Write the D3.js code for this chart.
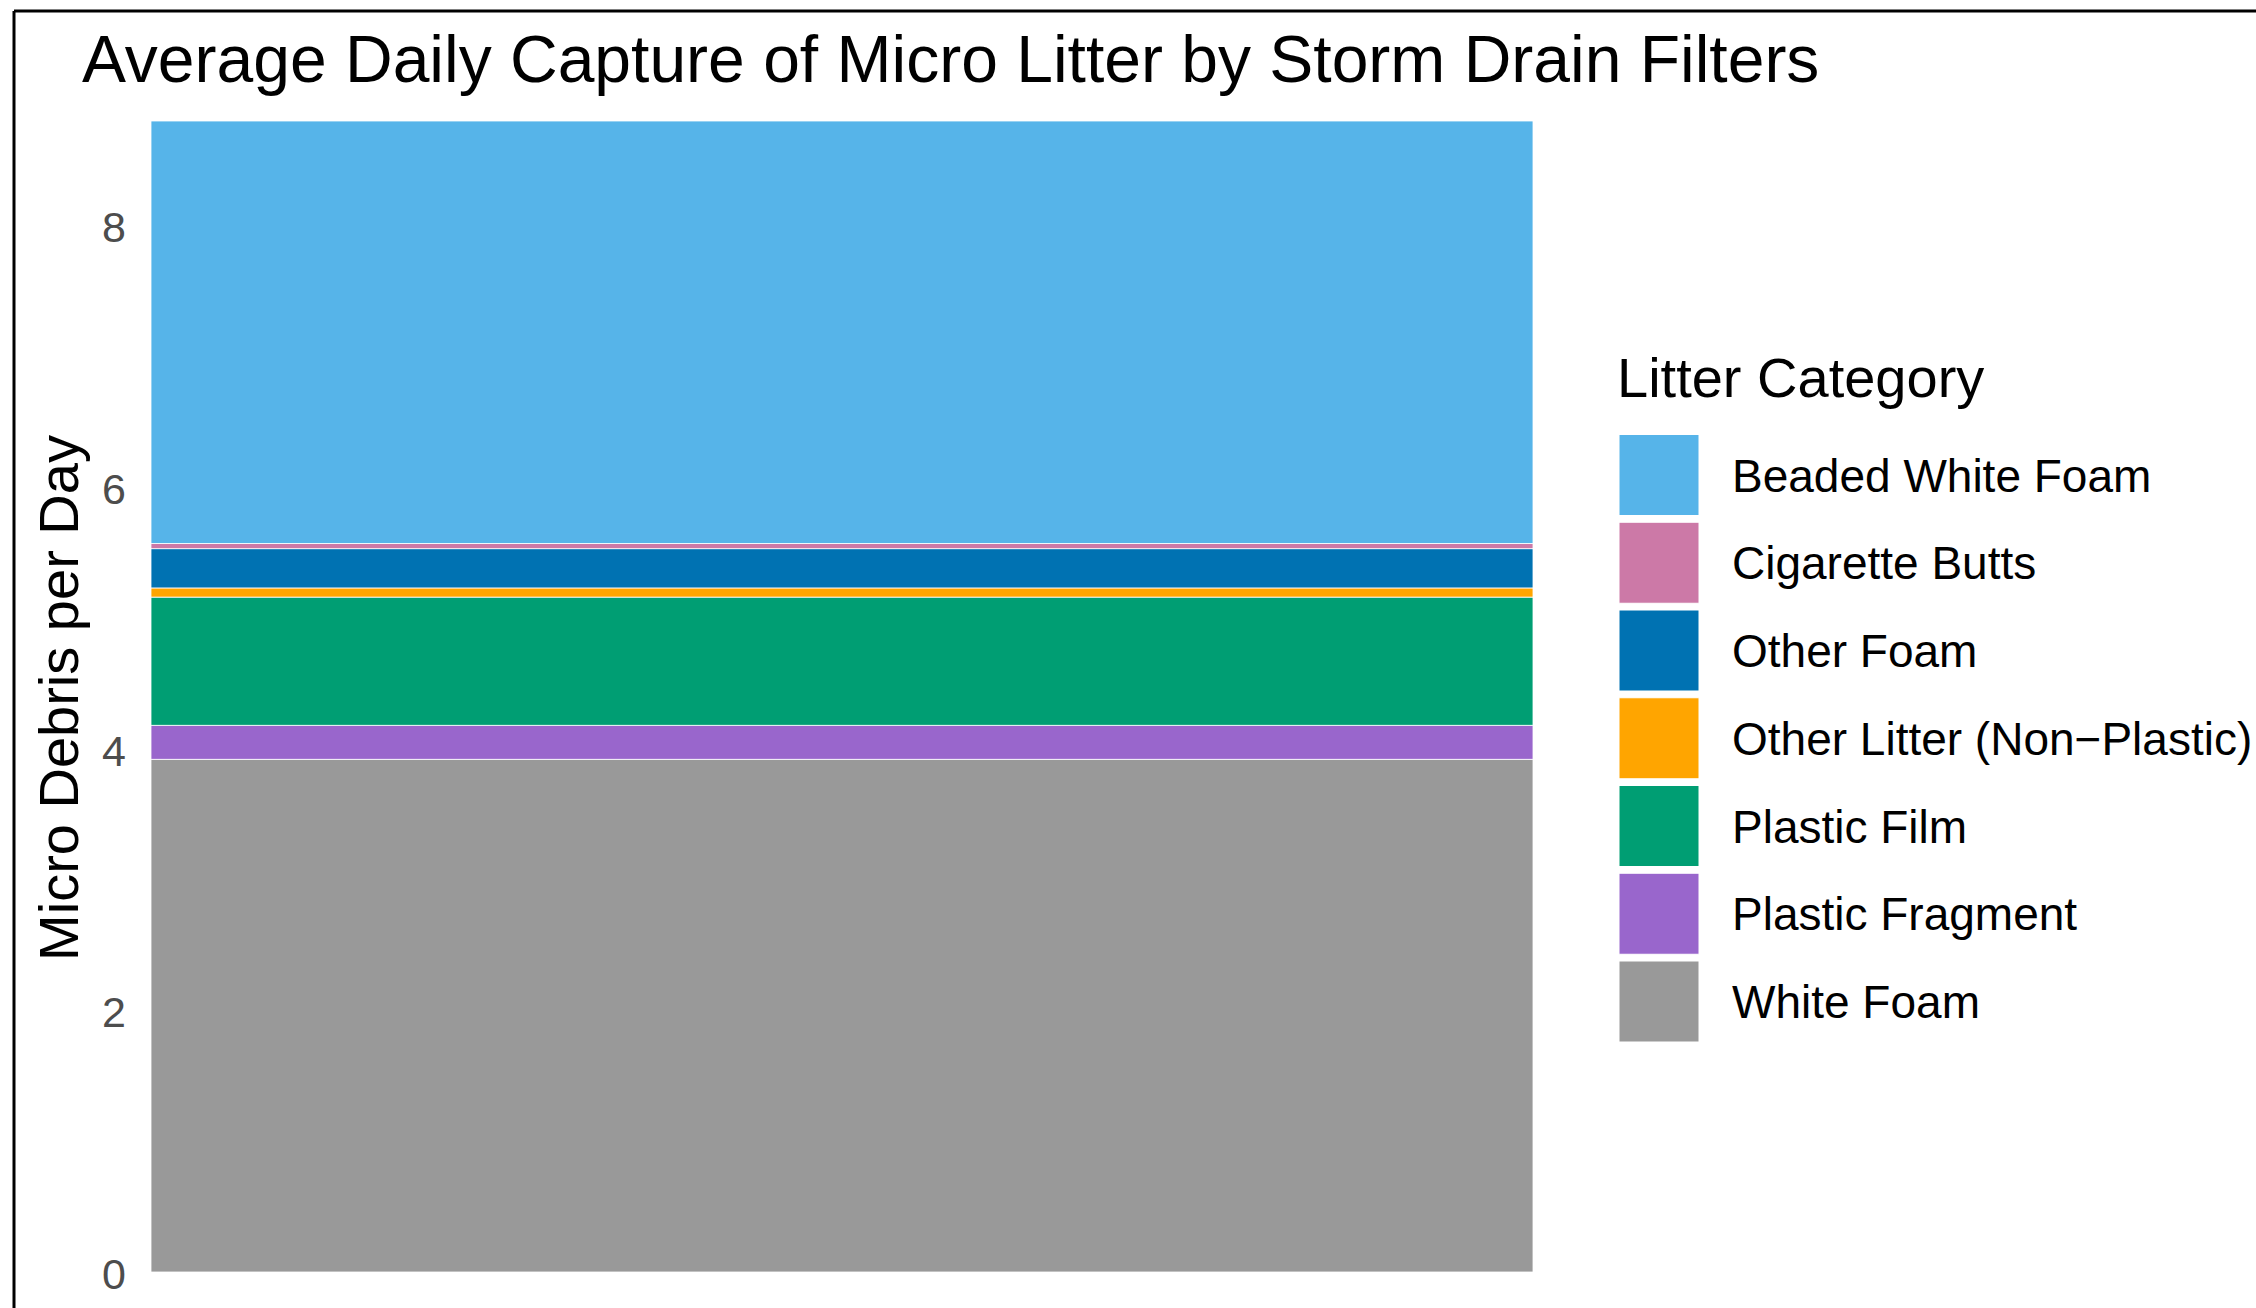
<!DOCTYPE html>
<html>
<head>
<meta charset="utf-8">
<script src="https://cdn.jsdelivr.net/npm/d3@7"></script>
<style>
  body { margin: 0; background: #fff; }
  svg { display: block; font-family: "Liberation Sans", Arial, sans-serif; }
</style>
</head>
<body>
<svg id="chart" width="2256" height="1308"></svg>
<script>
// categories in legend order (top of stack first)
const categories = ["Beaded White Foam", "Cigarette Butts", "Other Foam", "Other Litter (Non\u2212Plastic)", "Plastic Film", "Plastic Fragment", "White Foam"];
const values = [3.23, 0.04, 0.30, 0.07, 0.98, 0.26, 3.92];
const colors = ["#56B4E9", "#CC79A7", "#0072B2", "#FFA500", "#009E73", "#9966CC", "#999999"];
const yTicks = [0, 2, 4, 6, 8];

const svg = d3.select("#chart");

// outer frame (only top and left edges show)
svg.append("line").attr("x1", 14).attr("x2", 2256).attr("y1", 11).attr("y2", 11)
    .attr("stroke", "#000").attr("stroke-width", 3);
svg.append("line").attr("x1", 14).attr("x2", 14).attr("y1", 11).attr("y2", 1308)
    .attr("stroke", "#000").attr("stroke-width", 3);

const x = d3.scaleBand().domain(["all"]).range([151, 1533]).padding(0);
const y = d3.scaleLinear().domain([0, 8.8]).range([1272, 121]);

// stack from bottom up (reverse of legend order)
const rows = categories.map((c, i) => ({ cat: c, value: values[i], color: colors[i] })).reverse();
let acc = 0;
rows.forEach(d => { d.y0 = acc; acc += d.value; d.y1 = acc; });

svg.append("g")
    .selectAll("rect")
    .data(rows)
    .enter().append("rect")
    .attr("x", x("all"))
    .attr("width", x.bandwidth())
    .attr("y", d => y(d.y1))
    .attr("height", d => y(d.y0) - y(d.y1))
    .attr("fill", d => d.color)
    .attr("stroke", "#fff")
    .attr("stroke-width", 0.8);

// y axis: labels only
const yAxis = svg.append("g")
    .attr("transform", "translate(136,0)")
    .call(d3.axisLeft(y).tickValues(yTicks).tickSize(0).tickPadding(10).tickFormat(d3.format("d")));
yAxis.select(".domain").remove();
yAxis.selectAll("text")
    .attr("fill", "#4D4D4D")
    .attr("dy", "0.38em")
    .style("font-size", "43px")
    .style("font-family", "Liberation Sans, Arial, sans-serif");

svg.append("text")
    .attr("transform", "translate(78,698) rotate(-90)")
    .attr("text-anchor", "middle")
    .attr("fill", "#000")
    .style("font-size", "56px")
    .text("Micro Debris per Day");

svg.append("text")
    .attr("x", 82)
    .attr("y", 82)
    .attr("fill", "#000")
    .style("font-size", "66px")
    .text("Average Daily Capture of Micro Litter by Storm Drain Filters");

// legend
const legend = svg.append("g").attr("transform", "translate(1619,434.5)");
legend.append("text")
    .attr("x", -2)
    .attr("y", -38)
    .attr("fill", "#000")
    .style("font-size", "56px")
    .text("Litter Category");

const item = legend.selectAll("g.item")
    .data(categories)
    .enter().append("g")
    .attr("class", "item")
    .attr("transform", (d, i) => `translate(0,${i * 87.75})`);

item.append("rect")
    .attr("width", 80)
    .attr("height", 81)
    .attr("fill", (d, i) => colors[i])
    .attr("stroke", "#fff")
    .attr("stroke-width", 1);

item.append("text")
    .attr("x", 113)
    .attr("y", 40.5 + 16.5)
    .attr("fill", "#000")
    .style("font-size", "46px")
    .text(d => d);
</script>
</body>
</html>
